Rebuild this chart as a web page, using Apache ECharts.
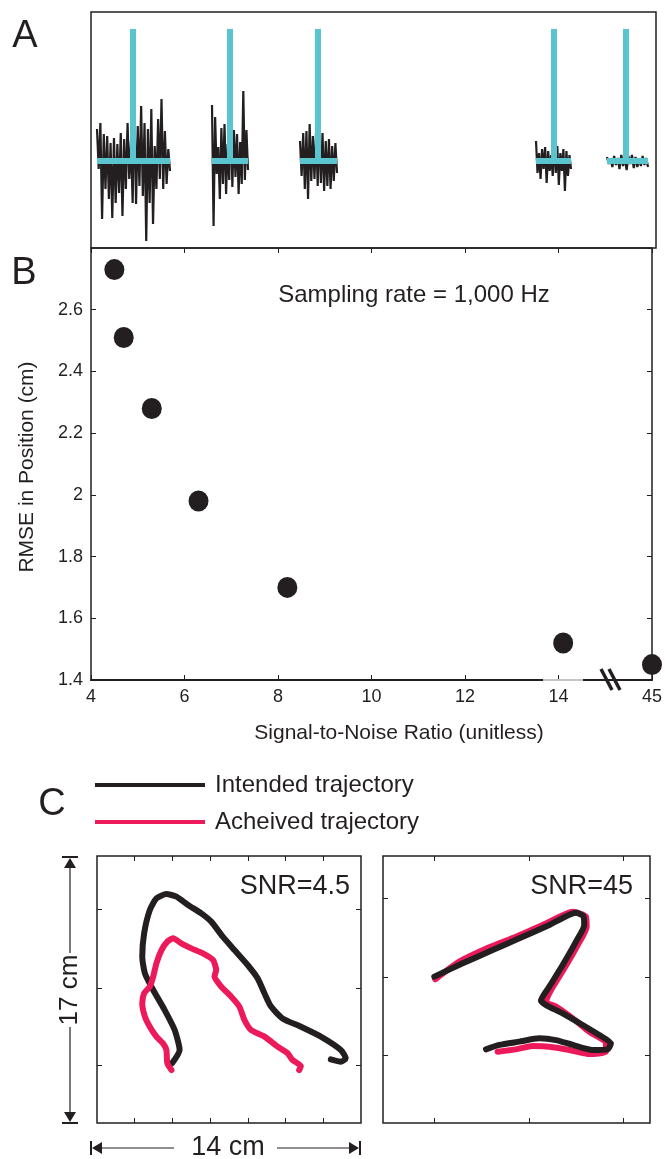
<!DOCTYPE html>
<html><head><meta charset="utf-8">
<script src="https://cdn.jsdelivr.net/npm/echarts@6/dist/echarts.min.js"></script>
<style>html,body{margin:0;padding:0;background:#fff}#c{width:665px;height:1159px}</style>
</head><body><div id="c"></div>
<script>
// ---------- Panel A: stimulus pulses and noisy responses ----------
const stimPos    = [42, 139, 227, 463, 535];
const traceStart = [6, 121, 209, 445, 516];
const traceEnd   = [79, 157, 246, 480, 557];
const stimHeight = 132;
const noise1 = [32,-8,38,-58,27,-28,25,-38,18,-57,23,-42,17,-32,28,-55,22,-28,38,-18,20,-42,60,-43,35,-25,55,-35,38,-80,32,-42,52,-63,15,-28,42,-18,62,-28,30,-23,12,-10];
const noise2 = [56,-65,44,-13,14,-38,33,-23,37,-33,17,-19,60,-26,31,-16,27,-33,19,-23,70,-19,31,-9];
const noise3 = [20,-15,28,-28,30,-38,37,-20,25,-18,30,-25,35,-22,28,-30,20,-25,22,-28,15,-20,18,-12];
const noise4 = [20,-12,8,-18,12,-8,14,-22,10,-10,6,-15,20,-12,15,-24,8,-10,12,-30,10,-15,6,-8];
const noise5 = [4,-3,2,-6,5,-4,3,-8,6,-5,3,-9,5,-3,6,-7,4,-6,2,-5,5,-4,3,-6];
const noiseSets = [noise1, noise2, noise3, noise4, noise5];

// ---------- Panel B: RMSE vs SNR ----------
const snr  = [4.5, 4.7, 5.3, 6.3, 8.2, 14.1, 45];
const rmse = [2.73, 2.51, 2.28, 1.98, 1.70, 1.52, 1.45];
const snrTicks = [4, 6, 8, 10, 12, 14, 45];
const rmseTicks = [1.4, 1.6, 1.8, 2.0, 2.2, 2.4, 2.6];

// ---------- Panel C: trajectories (cm) ----------
const intendedLow = [[3.98,3.80],[4.38,4.65],[4.12,5.92],[3.59,7.19],[2.98,8.47],[2.54,9.53],[2.40,10.59],[2.50,12.08],[2.80,13.56],[3.15,14.30],[3.68,14.58],[4.21,14.41],[4.83,13.88],[5.53,13.35],[6.06,12.82],[6.67,11.86],[7.29,11.01],[7.99,10.06],[8.52,9.21],[8.88,8.26],[9.23,7.41],[9.84,6.66],[10.81,6.13],[11.87,5.50],[12.93,4.65],[13.19,4.12],[12.93,3.90],[12.40,4.05]];
const achievedLow = [[3.95,3.37],[3.73,3.80],[3.68,4.65],[3.50,5.07],[3.15,5.50],[2.80,6.13],[2.54,6.77],[2.40,7.62],[2.50,8.26],[2.80,8.68],[2.98,9.32],[3.15,10.17],[3.42,11.01],[3.73,11.55],[4.03,11.76],[4.47,11.44],[5.00,11.12],[5.62,10.80],[6.15,10.38],[6.32,9.74],[6.23,9.32],[6.59,8.68],[7.12,8.04],[7.55,7.41],[7.82,6.56],[8.17,5.92],[8.88,5.50],[9.58,4.86],[10.11,4.44],[10.37,4.01],[10.81,3.63],[10.72,3.37]];
const intendedHigh = [[2.69,9.32],[4.18,10.17],[5.75,11.01],[7.15,11.76],[8.72,12.61],[10.12,13.39],[10.50,13.18],[10.55,12.61],[10.12,11.55],[9.42,10.06],[8.72,8.68],[8.28,7.79],[8.55,7.51],[9.42,6.98],[10.47,6.24],[11.34,5.60],[11.95,5.07],[11.78,4.69],[10.99,4.65],[9.95,4.97],[9.07,5.28],[8.19,5.39],[7.15,5.18],[6.10,4.97],[5.40,4.69]];
const achievedHigh = [[2.74,9.15],[4.00,10.27],[5.57,11.19],[6.97,11.86],[8.55,12.71],[9.95,13.45],[10.64,13.14],[10.68,12.50],[10.21,11.33],[9.51,9.85],[8.81,8.47],[8.55,7.72],[9.07,7.41],[9.95,6.66],[10.82,5.81],[11.69,5.07],[11.69,4.54],[10.82,4.39],[9.77,4.65],[8.72,4.86],[7.85,4.90],[6.97,4.69],[6.01,4.54]];
const lowXTicks = [2, 4, 6, 8, 10, 12];
const lowYTicks = [3.7, 8.6, 13.6];
const highXTicks = [2.7, 7.65, 12.6];
const highYTicks = [4.33, 9.3, 14.3];

const INK = '#231F20', CYAN = '#5BC5CF', PINK = '#EC1A5A';
const FONT = 'Liberation Sans, Arial, sans-serif';
const chart = echarts.init(document.getElementById('c'), null, {renderer: 'canvas'});

// axis break: everything beyond 15 is drawn at the "45" slot
const axisX = v => v > 15 ? 16 : v;

const series = [];
noiseSets.forEach((arr, g) => {
  const n = arr.length, s = traceStart[g], e = traceEnd[g];
  series.push({type:'line', xAxisIndex:0, yAxisIndex:0, showSymbol:false, silent:true,
    lineStyle:{color:INK, width:2.2}, data: arr.map((v,i)=>[s + i*(e-s)/(n-1), v]), z:2});
  series.push({type:'line', xAxisIndex:0, yAxisIndex:0, showSymbol:false, silent:true,
    lineStyle:{color:CYAN, width:6}, data:[[s,0],[e,0]], z:3});
  series.push({type:'line', xAxisIndex:0, yAxisIndex:0, showSymbol:false, silent:true,
    lineStyle:{color:CYAN, width:6}, data:[[stimPos[g],0],[stimPos[g],stimHeight]], z:3});
});
series.push({type:'scatter', xAxisIndex:1, yAxisIndex:1, symbol:'circle', symbolSize:[20,21],
  itemStyle:{color:INK, opacity:1}, data: snr.map((v,i)=>[axisX(v), rmse[i]]), z:5});
const traj = (data, xi, color, z) => ({type:'line', xAxisIndex:xi, yAxisIndex:xi, showSymbol:false, silent:true,
  smooth:0.2, lineStyle:{color, width:6, cap:'round', join:'round'}, data, z});
series.push(traj(intendedLow, 3, INK, 3));
series.push(traj(achievedLow, 3, PINK, 4));
series.push(traj(achievedHigh, 5, PINK, 3));
series.push(traj(intendedHigh, 5, INK, 4));

const tick = {show:true, inside:true, length:5, lineStyle:{color:INK, width:1}};
const noLine = {show:false, onZero:false};
const hidden = {show:false};
function boxAxes(gi, min, max, opts) { return Object.assign({gridIndex:gi, type:'value', min, max, axisLine:noLine, splitLine:hidden}, opts); }
const ct = (vals) => Object.assign({customValues:vals}, tick);
const cl = (vals) => ({show:false, customValues:vals});

const xAxis = [
  {gridIndex:0, type:'value', min:0, max:565, show:false},
  boxAxes(1, 4, 16, {position:'bottom', interval:2, axisTick:tick,
    axisLine:{show:true, onZero:false, lineStyle:{color:INK, width:2}},
    axisLabel:{show:true, color:INK, fontFamily:FONT, fontSize:18, margin:8,
      formatter:v => String(v === 16 ? snrTicks[6] : v)}}),
  boxAxes(1, 4, 16, {position:'top', interval:2, axisTick:tick, axisLabel:hidden}),
  boxAxes(2, 0, 14, {position:'bottom', axisTick:ct(lowXTicks), axisLabel:cl(lowXTicks)}),
  boxAxes(2, 0, 14, {position:'top', axisTick:ct(lowXTicks), axisLabel:cl(lowXTicks)}),
  boxAxes(3, 0, 14, {position:'bottom', axisTick:ct(highXTicks), axisLabel:cl(highXTicks)}),
  boxAxes(3, 0, 14, {position:'top', axisTick:ct(highXTicks), axisLabel:cl(highXTicks)})
];
const yAxis = [
  {gridIndex:0, type:'value', min:-87, max:149, show:false},
  boxAxes(1, 1.4, 2.8, {position:'left', interval:0.2, axisTick:tick,
    axisLabel:{show:true, color:INK, fontFamily:FONT, fontSize:18, margin:8, showMaxLabel:false,
      formatter:v => String(Math.round(v*10)/10)}}),
  boxAxes(1, 1.4, 2.8, {position:'right', interval:0.2, axisTick:tick, axisLabel:hidden}),
  boxAxes(2, 0, 17, {position:'left', axisTick:ct(lowYTicks), axisLabel:cl(lowYTicks)}),
  boxAxes(2, 0, 17, {position:'right', axisTick:ct(lowYTicks), axisLabel:cl(lowYTicks)}),
  boxAxes(3, 0, 17, {position:'left', axisTick:ct(highYTicks), axisLabel:cl(highYTicks)}),
  boxAxes(3, 0, 17, {position:'right', axisTick:ct(highYTicks), axisLabel:cl(highYTicks)})
];

const gridBox = {show:true, borderColor:INK, borderWidth:1.5, backgroundColor:'transparent'};
const grid = [
  Object.assign({left:91, top:12, width:565, height:236}, gridBox),
  Object.assign({left:91, top:248, width:565, height:432}, gridBox),
  Object.assign({left:97, top:856, width:264, height:267}, gridBox),
  Object.assign({left:383, top:856, width:267, height:267}, gridBox)
];

const ln = (x1,y1,x2,y2,w,c) => ({type:'line', silent:true, z:10, shape:{x1,y1,x2,y2}, style:{stroke:c||INK, lineWidth:w}});
const poly = (pts) => ({type:'polygon', silent:true, z:10, shape:{points:pts}, style:{fill:INK}});
function T(x, y, text, size, align, rot) {
  const o = {type:'text', x, y, silent:true, z:10,
    style:{text, fill:INK, font:`${size}px ${FONT}`, align:align||'left', verticalAlign:'middle'}};
  if (rot) o.rotation = rot;
  return o;
}

const graphic = [
  T(25, 37, 'A', 38, 'center'),
  T(24, 274, 'B', 38, 'center'),
  T(52, 805, 'C', 38, 'center'),
  T(414, 295, 'Sampling rate = 1,000 Hz', 24, 'center'),
  T(27, 467, 'RMSE in Position (cm)', 21, 'center', Math.PI/2),
  T(399, 733, 'Signal-to-Noise Ratio (unitless)', 21, 'center'),
  // axis break marks
  ln(543, 680, 583, 680, 2, '#c4c4c4'),
  ln(601, 669, 612, 690, 3.5), ln(609, 669, 620, 690, 3.5),
  // legend
  ln(95, 785, 205, 785, 4, INK),
  ln(95, 822, 205, 822, 4, PINK),
  T(215, 785, 'Intended trajectory', 24),
  T(215, 822, 'Acheived trajectory', 24),
  // SNR labels
  T(350, 887, 'SNR=4.5', 27, 'right'),
  T(633, 887, 'SNR=45', 27, 'right'),
  // vertical scale bar (17 cm)
  ln(62, 857, 78, 857, 2), poly([[70,858],[64,868],[76,868]]), ln(70, 866, 70, 953, 1.2),
  T(70, 990, '17 cm', 26, 'center', Math.PI/2),
  ln(70, 1027, 70, 1114, 1.2), poly([[70,1122],[64,1112],[76,1112]]), ln(62, 1123, 78, 1123, 2),
  // horizontal scale bar (14 cm)
  ln(91, 1141, 91, 1155, 2), poly([[92,1148],[102,1142],[102,1154]]), ln(101, 1148, 174, 1148, 1.2),
  T(228, 1148, '14 cm', 27, 'center'),
  ln(277, 1148, 350, 1148, 1.2), poly([[359,1148],[349,1142],[349,1154]]), ln(360, 1141, 360, 1155, 2)
];

chart.setOption({animation:false, backgroundColor:'#fff', grid, xAxis, yAxis, series, graphic});
</script></body></html>
